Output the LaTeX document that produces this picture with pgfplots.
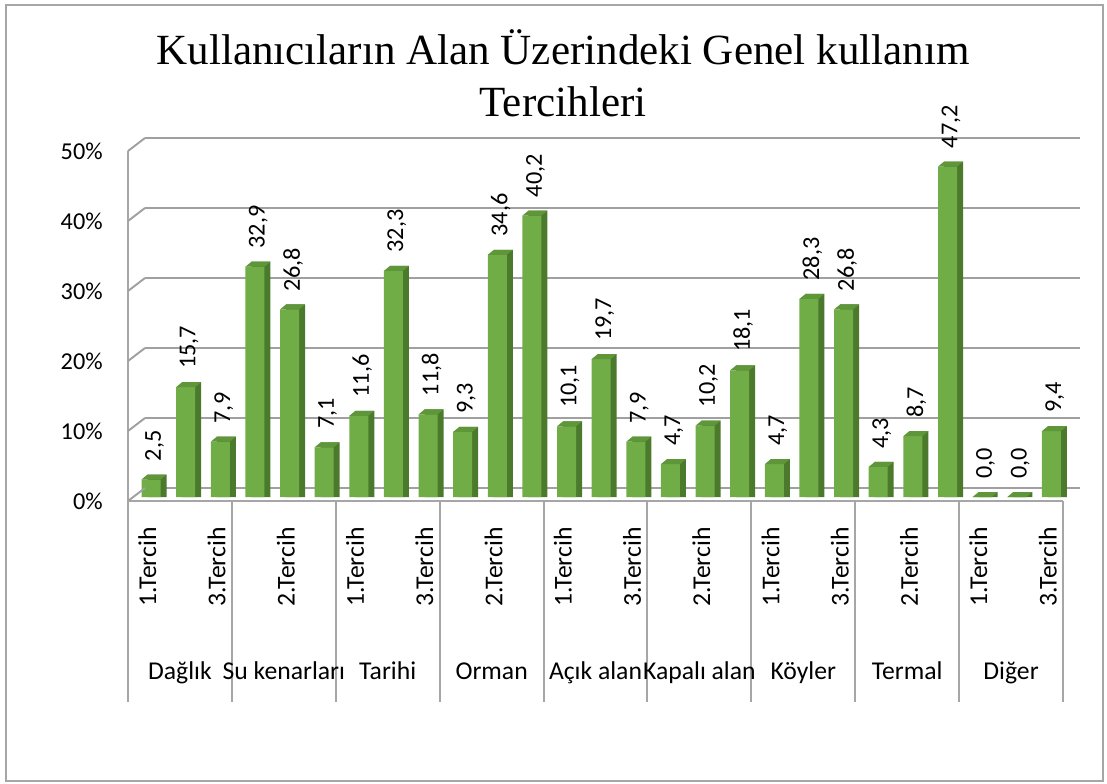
\documentclass[border=0pt]{standalone}
\usepackage{fontspec}
\setmainfont{Carlito}
\newfontfamily\titlefont{Liberation Serif}
\usepackage{pgfplots}
\usepackage{pgfplotstable}
\pgfplotsset{compat=1.18}
\definecolor{face}{HTML}{70AD47}
\definecolor{side}{HTML}{4B7A2C}
\definecolor{capc}{HTML}{5E9639}
\definecolor{frame}{HTML}{A6A6A6}
\definecolor{gridc}{HTML}{A0A0A0}
% top face of a 3D bar, drawn at the bar top
\pgfdeclareplotmark{cap}{%
  \pgfpathmoveto{\pgfpoint{-0.19cm}{0cm}}%
  \pgfpathlineto{\pgfpoint{0.19cm}{0cm}}%
  \pgfpathlineto{\pgfpoint{0.31cm}{0.10cm}}%
  \pgfpathlineto{\pgfpoint{-0.07cm}{0.10cm}}%
  \pgfpathclose\pgfusepathqfill}

\pgfplotstableread{
x v
0 2.5
1 15.7
2 7.9
3 32.9
4 26.8
5 7.1
6 11.6
7 32.3
8 11.8
9 9.3
10 34.6
11 40.2
12 10.1
13 19.7
14 7.9
15 4.7
16 10.2
17 18.1
18 4.7
19 28.3
20 26.8
21 4.3
22 8.7
23 47.2
24 0.0
25 0.0
26 9.4
}\prefs

\pgfplotsset{
  base/.style={width=18.7cm, height=7cm, scale only axis, xmin=-0.5, xmax=26.5,
    ymin=0, ymax=50, clip=false, major tick length=0pt},
}

\begin{document}
\begin{tikzpicture}
\path[use as bounding box] (0,0) rectangle (22.14,15.66);
\draw[frame, line width=1.2pt] (0.12,0.04) rectangle (22.06,15.56);

\node[font=\titlefont\fontsize{24.5}{28}\selectfont, anchor=base] at (11.26,14.36)
  {Kullanıcıların Alan Üzerindeki Genel kullanım};
\node[font=\titlefont\fontsize{24.5}{28}\selectfont, anchor=base] at (11.26,13.32)
  {Tercihleri};

% back wall with gridlines
\begin{axis}[base, at={(2.90cm,5.90cm)}, anchor=south west,
  axis line style={draw=none}, xtick=\empty, ytick={0,10,...,50}, yticklabels={},
  ymajorgrids, grid style={gridc, line width=1.1pt}]
\end{axis}

% front: value axis and category axis
\begin{axis}[base, at={(2.56cm,5.64cm)}, anchor=south west,
  axis lines*=left, axis line style={frame, line width=1.1pt},
  ytick={0,10,...,50},
  yticklabel={\pgfmathparse{int(\tick)}\pgfmathresult\%},
  yticklabel style={font=\fontsize{13.8}{16}\selectfont, anchor=east, inner xsep=0.50cm, inner ysep=0pt},
  xtick={0,2,...,26},
  xticklabels={1.Tercih,3.Tercih,2.Tercih,1.Tercih,3.Tercih,2.Tercih,1.Tercih,3.Tercih,2.Tercih,1.Tercih,3.Tercih,2.Tercih,1.Tercih,3.Tercih},
  xticklabel style={font=\fontsize{14.6}{17}\selectfont, xshift=0.04cm, rotate=90, anchor=east, inner xsep=0.52cm, inner ysep=0pt}]
\end{axis}

% bars
\begin{axis}[base, at={(2.674cm,5.72cm)}, anchor=south west,
  axis line style={draw=none}, xtick=\empty, ytick=\empty]
\addplot[ybar, bar width=0.38cm, bar shift=0.12cm, fill=side, draw=none]
  table[x=x, y expr=\thisrow{v}+0.714] {\prefs};
\addplot[ybar, bar width=0.38cm, bar shift=0cm, fill=face, draw=none,
  point meta=y,
  nodes near coords={\pgfmathprintnumber[fixed, fixed zerofill, precision=1, use comma, assume math mode=true]{\pgfplotspointmeta}},
  every node near coord/.append style={font=\fontsize{13.8}{16}\selectfont, text=black, xshift=0.07cm, rotate=90, anchor=west, inner xsep=0.36cm, inner ysep=0pt}]
  table[x=x, y=v] {\prefs};
\addplot[only marks, mark=cap, color=capc, mark options={fill=capc}]
  table[x=x, y=v] {\prefs};
\end{axis}

% left wall connectors between front and back gridlines
\foreach \k in {0,...,5}
  \draw[gridc, line width=1.1pt] (2.56,5.64+1.4*\k) -- ++(0.34,0.26);

% category separators and group names
\foreach \k in {0,...,9}
  \draw[frame, line width=1.1pt] (2.56+2.0778*\k,5.64) -- (2.56+2.0778*\k,1.62);
\foreach \n [count=\i from 0] in {Dağlık,Su kenarları,Tarihi,Orman,Açık alan,Kapalı alan,Köyler,Termal,Diğer}
  \node[font=\fontsize{14.6}{17}\selectfont, anchor=base] at (2.56+2.0778*\i+1.0389,2.08) {\n};
\end{tikzpicture}
\end{document}
